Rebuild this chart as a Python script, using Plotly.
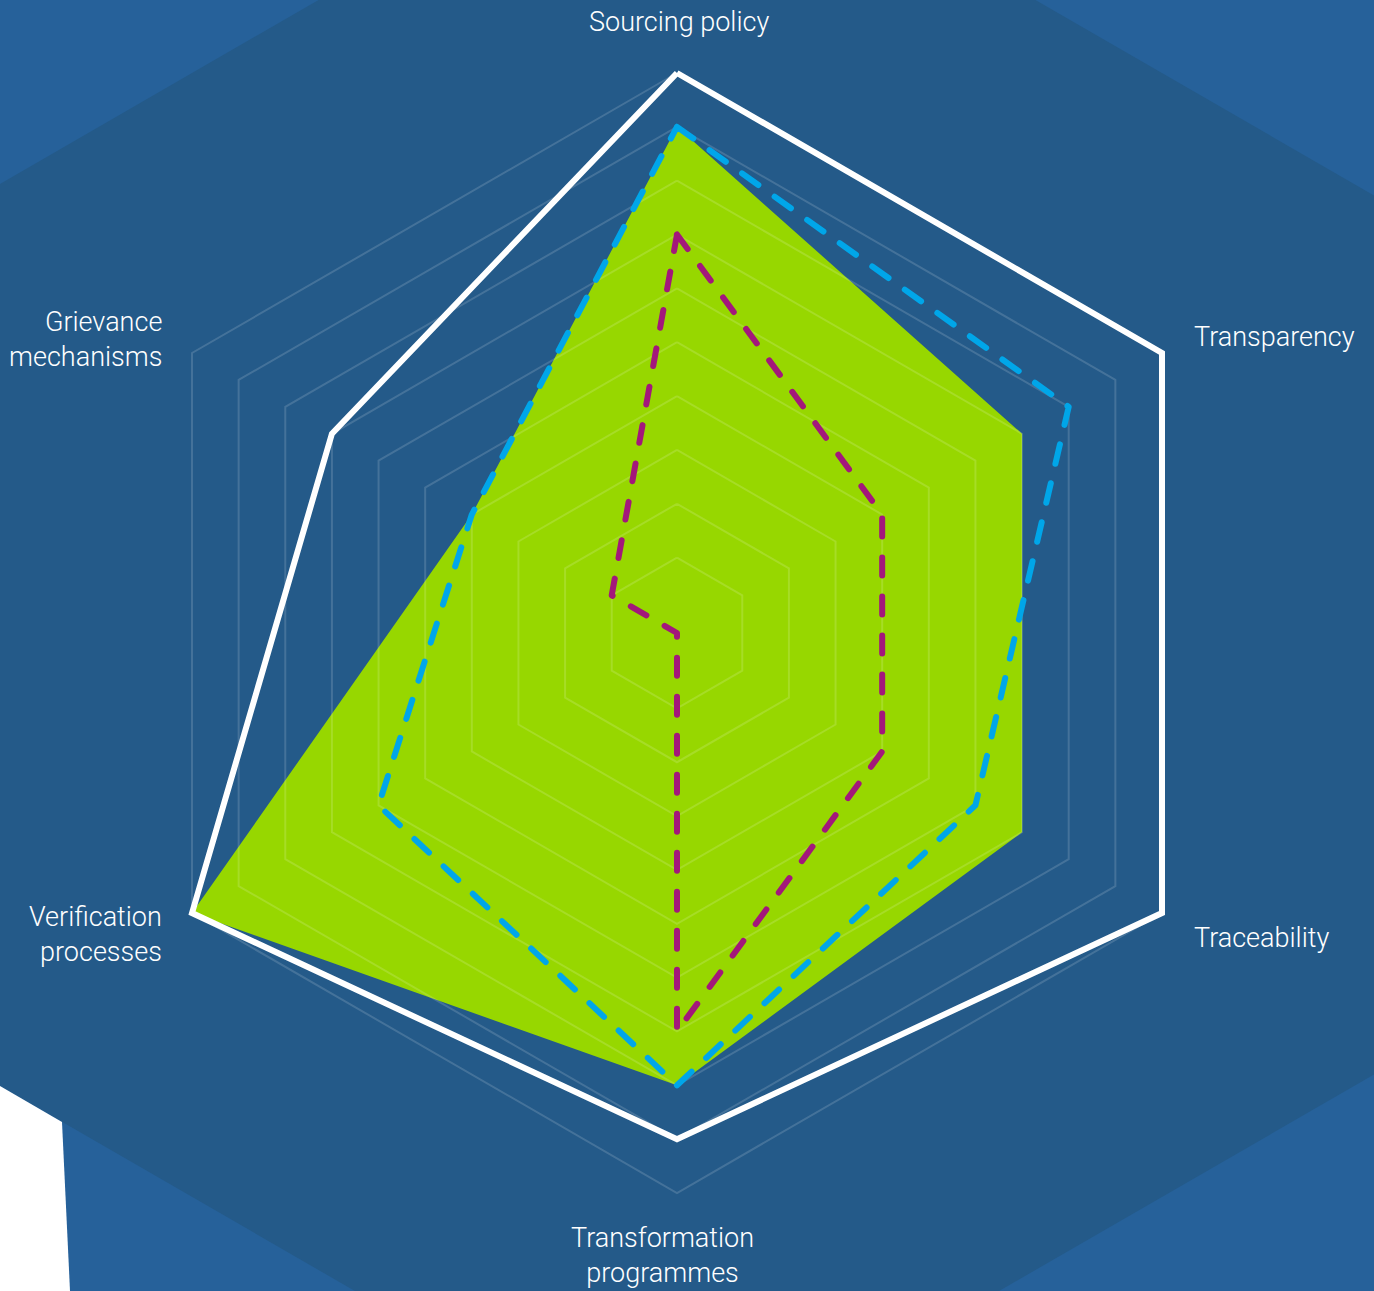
import plotly.graph_objects as go

# ---------------- data ----------------
categories = ["Sourcing policy", "Transparency", "Traceability",
              "Transformation programmes", "Verification processes", "Grievance mechanisms"]
tick_labels = ["Sourcing policy", "Transparency", "Traceability",
               "Transformation<br>programmes", "Verification<br>processes", "Grievance<br>mechanisms"]

radial_min = -0.4          # value at the centre of the chart
grid_levels = [1, 2, 3, 4, 5, 6, 7, 8, 9, 10]

benchmark = [10, 10, 10, 9, 10, 7]        # white outline
company_green = [9, 7, 7, 8, 10, 4]       # green filled area
company_blue = [9, 8, 6, 8, 6, 4]         # blue dashed
company_purple = [7, 4, 4, 7, -0.4, 1]    # purple dashed

# ---------------- style ----------------
W, H = 1374, 1291
CX, CY = 677, 633
R_TOP_LEVEL = 560                 # pixel radius of the outer grid ring (level 10)
RADIAL_MAX = 10.1                 # small headroom so outer lines are not clipped
UNIT = R_TOP_LEVEL / (grid_levels[-1] - radial_min)
R_DOM = UNIT * (RADIAL_MAX - radial_min)

BG_LIGHT = "#26619A"
BG_DARK = "#245A89"
GREEN = "#97D700"
BLUE = "#00A6E9"
PURPLE = "#A3177B"
GRID = "rgba(255,255,255,0.15)"
FONT = "Roboto, 'Open Sans', sans-serif"

# label placement (pixel position, anchors) in the same order as categories
label_pos = [
    (679, 22, "center", "middle", "center"),
    (1192, 337, "left", "middle", "left"),
    (1192, 938, "left", "middle", "left"),
    (662, 1255, "center", "middle", "center"),
    (164, 934, "right", "middle", "right"),
    (164, 339, "right", "middle", "right"),
]


def closed(vals):
    return list(vals) + [vals[0]]


theta_closed = closed(categories)

fig = go.Figure()

# green filled area
fig.add_trace(go.Scatterpolar(
    r=closed(company_green), theta=theta_closed, mode="lines",
    fill="toself", fillcolor=GREEN, line=dict(width=0, color=GREEN),
    name="Company green", cliponaxis=False, hoverinfo="skip"))

# hexagonal grid rings (drawn above the fill, like the reference)
ring_r, ring_t = [], []
for lvl in grid_levels:
    ring_r += [lvl] * (len(categories) + 1) + [None]
    ring_t += theta_closed + [None]
fig.add_trace(go.Scatterpolar(
    r=ring_r, theta=ring_t, mode="lines", connectgaps=False,
    line=dict(width=2, color=GRID), hoverinfo="skip", name="grid", cliponaxis=False))

fig.add_trace(go.Scatterpolar(
    r=closed(benchmark), theta=theta_closed, mode="lines",
    line=dict(width=6, color="white"), name="Benchmark", cliponaxis=False))
fig.add_trace(go.Scatterpolar(
    r=closed(company_blue), theta=theta_closed, mode="lines",
    line=dict(width=6, color=BLUE, dash="20px,20px"), name="Company blue", cliponaxis=False))
fig.add_trace(go.Scatterpolar(
    r=closed(company_purple), theta=theta_closed, mode="lines",
    line=dict(width=6, color=PURPLE, dash="18px,21px"), name="Company purple", cliponaxis=False))


def p(x, y):
    return f"{x / W:.5f},{1 - y / H:.5f}"


hex_pts = [(677, -207), (1406, 214), (1406, 1056), (677, 1477), (-52, 1056), (-52, 214)]
hex_path = "M" + " L".join(p(x, y) for x, y in hex_pts) + " Z"
white_pts = [(0, 1086), (62, 1122), (70, 1291), (0, 1291)]
white_path = "M" + " L".join(p(x, y) for x, y in white_pts) + " Z"

annotations = []
for text, (x, y, xa, ya, al) in zip(tick_labels, label_pos):
    annotations.append(dict(
        text=text, x=x / W, y=1 - y / H, xref="paper", yref="paper",
        xanchor=xa, yanchor=ya, align=al, showarrow=False,
        font=dict(family=FONT, size=27, color="white", weight=300)))

fig.update_layout(
    width=W, height=H,
    margin=dict(l=0, r=0, t=0, b=0),
    paper_bgcolor=BG_LIGHT,
    showlegend=False,
    annotations=annotations,
    shapes=[
        dict(type="path", path=hex_path, xref="paper", yref="paper",
             fillcolor=BG_DARK, line=dict(width=0), layer="below"),
        dict(type="path", path=white_path, xref="paper", yref="paper",
             fillcolor="white", line=dict(width=0), layer="below"),
    ],
    polar=dict(
        domain=dict(x=[(CX - R_DOM) / W, (CX + R_DOM) / W],
                    y=[1 - (CY + R_DOM) / H, 1 - (CY - R_DOM) / H]),
        bgcolor="rgba(0,0,0,0)",
        gridshape="linear",
        radialaxis=dict(range=[radial_min, RADIAL_MAX], visible=False),
        angularaxis=dict(
            rotation=90, direction="clockwise",
            categoryorder="array", categoryarray=categories,
            showgrid=False, showline=False, showticklabels=False, ticks="",
        ),
    ),
)

post = """
document.body.style.margin='0';
document.body.style.overflow='hidden';
document.querySelectorAll('path.js-line').forEach(function(pth){
  var d = pth.style.strokeDasharray;
  if (d && d !== 'none') { pth.style.strokeLinecap='round'; pth.style.strokeLinejoin='round'; }
});
"""
fig.write_html("out.html", post_script=post, config={"displayModeBar": False})
